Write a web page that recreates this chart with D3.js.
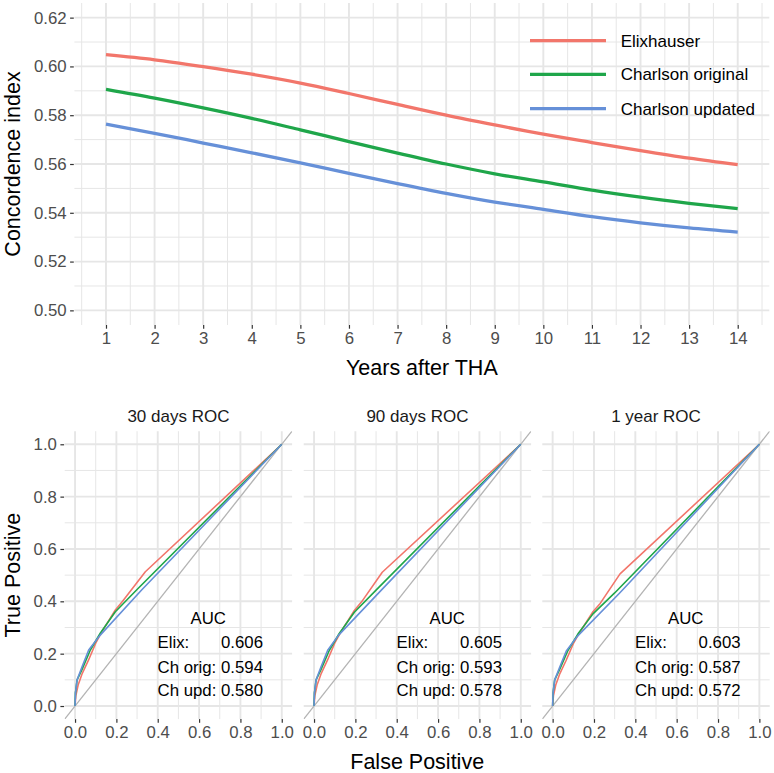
<!DOCTYPE html>
<html>
<head>
<meta charset="utf-8">
<script src="https://cdn.jsdelivr.net/npm/d3@7"></script>
<style>
  html, body { margin: 0; padding: 0; background: #fff; }
  svg { display: block; font-family: "Liberation Sans", Arial, sans-serif; }
</style>
</head>
<body>
<svg id="chart" width="774" height="773"></svg>
<script>
// ---------------- DATA ----------------
const years = [1, 2, 3, 4, 5, 6, 7, 8, 9, 10, 11, 12, 13, 14];
const yTicksTop = [0.50, 0.52, 0.54, 0.56, 0.58, 0.60, 0.62];
const seriesNames = ["Elixhauser", "Charlson original", "Charlson updated"];
const elixC   = [0.6048, 0.6027, 0.5999, 0.5968, 0.5932, 0.5889, 0.5844, 0.5800, 0.5760, 0.5722, 0.5688, 0.5655, 0.5624, 0.5597];
const chOrigC = [0.5906, 0.5870, 0.5830, 0.5787, 0.5740, 0.5692, 0.5645, 0.5600, 0.5560, 0.5527, 0.5493, 0.5464, 0.5439, 0.5417];
const chUpdC  = [0.5763, 0.5726, 0.5686, 0.5646, 0.5605, 0.5562, 0.5520, 0.5480, 0.5444, 0.5414, 0.5384, 0.5359, 0.5338, 0.5321];

const panelTitles = ["30 days ROC", "90 days ROC", "1 year ROC"];
const rocTicks = [0.0, 0.2, 0.4, 0.6, 0.8, 1.0];
// ROC curves: [false positive, true positive]
const roc30Elix = [[0,0],[0.004,0.04],[0.015,0.08],[0.035,0.125],[0.065,0.175],[0.10,0.24],[0.13,0.284],[0.195,0.367],[0.23,0.40],[0.34,0.513],[1,1]];
const roc30Orig = [[0,0],[0.002,0.05],[0.01,0.10],[0.034,0.14],[0.074,0.214],[0.122,0.278],[0.195,0.36],[0.30,0.445],[1,1]];
const roc30Upd  = [[0,0],[0.002,0.05],[0.01,0.10],[0.034,0.15],[0.066,0.214],[0.122,0.271],[0.322,0.443],[1,1]];
const roc90Elix = [[0,0],[0.004,0.04],[0.015,0.08],[0.035,0.125],[0.065,0.175],[0.10,0.24],[0.13,0.283],[0.195,0.365],[0.23,0.398],[0.33,0.511],[1,1]];
const roc90Orig = [[0,0],[0.002,0.05],[0.01,0.10],[0.034,0.14],[0.074,0.213],[0.122,0.277],[0.195,0.358],[0.30,0.443],[1,1]];
const roc90Upd  = [[0,0],[0.002,0.05],[0.01,0.10],[0.034,0.15],[0.066,0.213],[0.118,0.27],[0.322,0.44],[1,1]];
const roc1yElix = [[0,0],[0.004,0.04],[0.015,0.08],[0.035,0.124],[0.065,0.174],[0.10,0.238],[0.13,0.28],[0.195,0.36],[0.23,0.392],[0.326,0.505],[1,1]];
const roc1yOrig = [[0,0],[0.002,0.05],[0.01,0.10],[0.034,0.14],[0.074,0.212],[0.122,0.275],[0.195,0.352],[0.30,0.432],[1,1]];
const roc1yUpd  = [[0,0],[0.002,0.05],[0.01,0.10],[0.034,0.148],[0.066,0.21],[0.118,0.265],[0.322,0.43],[1,1]];
const aucLabels = ["Elix:", "Ch orig:", "Ch upd:"];
const auc30 = ["0.606", "0.594", "0.580"];
const auc90 = ["0.605", "0.593", "0.578"];
const auc1y = ["0.603", "0.587", "0.572"];

// ---------------- STYLE ----------------
const colors = ["#F2766B", "#1FA64A", "#6690D8"];
const gridCol = "#E6E6E6";
const tickTxt = "#4D4D4D";
const tickCol = "#333333";

const svg = d3.select("#chart");

// ---------------- TOP PANEL ----------------
const topP = { left: 74.4, right: 769.3, top: 3, bottom: 325 };
const x = d3.scaleLinear().domain([0.35, 14.65]).range([topP.left, topP.right]);
const y = d3.scaleLinear().domain([0.494, 0.626]).range([topP.bottom, topP.top]);

const gTop = svg.append("g");
const xMinor = d3.range(0.5, 14.6, 1);
const yMinor = d3.range(0.51, 0.62, 0.02);
gTop.selectAll(".xmin").data(xMinor).join("line")
  .attr("x1", d => x(d)).attr("x2", d => x(d)).attr("y1", topP.top).attr("y2", topP.bottom)
  .attr("stroke", gridCol).attr("stroke-width", 1.0);
gTop.selectAll(".ymin").data(yMinor).join("line")
  .attr("x1", topP.left).attr("x2", topP.right).attr("y1", d => y(d)).attr("y2", d => y(d))
  .attr("stroke", gridCol).attr("stroke-width", 1.0);
gTop.selectAll(".xmaj").data(years).join("line")
  .attr("x1", d => x(d)).attr("x2", d => x(d)).attr("y1", topP.top).attr("y2", topP.bottom)
  .attr("stroke", gridCol).attr("stroke-width", 1.9);
gTop.selectAll(".ymaj").data(yTicksTop).join("line")
  .attr("x1", topP.left).attr("x2", topP.right).attr("y1", d => y(d)).attr("y2", d => y(d))
  .attr("stroke", gridCol).attr("stroke-width", 1.9);

const xAxisTop = d3.axisBottom(x).tickValues(years).tickFormat(d3.format("d")).tickSize(3.7).tickPadding(3.5);
const yAxisTop = d3.axisLeft(y).tickValues(yTicksTop).tickFormat(d3.format(".2f")).tickSize(3.7).tickPadding(3.5);
function styleAxis(g) {
  g.select(".domain").remove();
  g.selectAll(".tick line").attr("stroke", tickCol).attr("stroke-width", 1.2);
  g.selectAll(".tick text").attr("fill", tickTxt).style("font-size", "16.8px").style("font-family", "Liberation Sans, Arial, sans-serif");
}
gTop.append("g").attr("transform", `translate(0,${topP.bottom})`).call(xAxisTop).call(styleAxis);
gTop.append("g").attr("transform", `translate(${topP.left - 0.6},0)`).call(yAxisTop).call(styleAxis);

const topSeries = [elixC, chOrigC, chUpdC];
const lineTop = d3.line().x((d, i) => x(years[i])).y(d => y(d)).curve(d3.curveMonotoneX);
gTop.selectAll(".cline").data(topSeries).join("path")
  .attr("d", d => lineTop(d)).attr("fill", "none")
  .attr("stroke", (d, i) => colors[i]).attr("stroke-width", 3.3).attr("stroke-linecap", "butt");

const legY = [40.7, 74.3, 108.7];
const leg = gTop.append("g");
seriesNames.forEach((nm, i) => {
  leg.append("line").attr("x1", 530).attr("x2", 606).attr("y1", legY[i]).attr("y2", legY[i])
    .attr("stroke", colors[i]).attr("stroke-width", 3.3);
  leg.append("text").attr("x", 620.7).attr("y", legY[i] + 6).text(nm)
    .attr("fill", "#000").style("font-size", "17px");
});

svg.append("text").attr("x", (topP.left + topP.right) / 2).attr("y", 374.5).attr("text-anchor", "middle")
  .style("font-size", "21.5px").attr("fill", "#000").text("Years after THA");
svg.append("text").attr("transform", `translate(19.5,${(topP.top + topP.bottom) / 2}) rotate(-90)`)
  .attr("text-anchor", "middle").style("font-size", "21.5px").attr("fill", "#000").text("Concordence index");

// ---------------- BOTTOM PANELS ----------------
const pW = 227.4, pTop = 431.2, pBot = 719.1;
const pLefts = [64.7, 303.7, 542.3];
const rocData = [[roc30Elix, roc30Orig, roc30Upd], [roc90Elix, roc90Orig, roc90Upd], [roc1yElix, roc1yOrig, roc1yUpd]];
const aucData = [auc30, auc90, auc1y];
const minorR = [0.1, 0.3, 0.5, 0.7, 0.9];

pLefts.forEach((pl, p) => {
  const sx = d3.scaleLinear().domain([-0.05, 1.05]).range([pl, pl + pW]);
  const sy = d3.scaleLinear().domain([-0.05, 1.05]).range([pBot, pTop]);
  const g = svg.append("g");
  const clipId = "clip" + p;
  g.append("clipPath").attr("id", clipId).append("rect")
    .attr("x", pl).attr("y", pTop).attr("width", pW).attr("height", pBot - pTop);

  g.selectAll(".vmin").data(minorR).join("line")
    .attr("x1", d => sx(d)).attr("x2", d => sx(d)).attr("y1", pTop).attr("y2", pBot)
    .attr("stroke", gridCol).attr("stroke-width", 1.0);
  g.selectAll(".hmin").data(minorR).join("line")
    .attr("x1", pl).attr("x2", pl + pW).attr("y1", d => sy(d)).attr("y2", d => sy(d))
    .attr("stroke", gridCol).attr("stroke-width", 1.0);
  g.selectAll(".vmaj").data(rocTicks).join("line")
    .attr("x1", d => sx(d)).attr("x2", d => sx(d)).attr("y1", pTop).attr("y2", pBot)
    .attr("stroke", gridCol).attr("stroke-width", 1.9);
  g.selectAll(".hmaj").data(rocTicks).join("line")
    .attr("x1", pl).attr("x2", pl + pW).attr("y1", d => sy(d)).attr("y2", d => sy(d))
    .attr("stroke", gridCol).attr("stroke-width", 1.9);

  const xa = d3.axisBottom(sx).tickValues(rocTicks).tickFormat(d3.format(".1f")).tickSize(3.7).tickPadding(3.5);
  g.append("g").attr("transform", `translate(0,${pBot})`).call(xa).call(styleAxis);
  if (p === 0) {
    const ya = d3.axisLeft(sy).tickValues(rocTicks).tickFormat(d3.format(".1f")).tickSize(3.7).tickPadding(3.5);
    g.append("g").attr("transform", `translate(${pl - 0.6},0)`).call(ya).call(styleAxis);
  }

  g.append("line").attr("clip-path", `url(#${clipId})`)
    .attr("x1", sx(-0.05)).attr("y1", sy(-0.05)).attr("x2", sx(1.05)).attr("y2", sy(1.05))
    .attr("stroke", "#B3B3B3").attr("stroke-width", 1.3);

  const ln = d3.line().x(d => sx(d[0])).y(d => sy(d[1]));
  rocData[p].forEach((ser, i) => {
    g.append("path").attr("clip-path", `url(#${clipId})`).attr("d", ln(ser)).attr("fill", "none")
      .attr("stroke", colors[i]).attr("stroke-width", 1.6).attr("stroke-linejoin", "round");
  });

  g.append("text").attr("x", pl + pW / 2).attr("y", 422).attr("text-anchor", "middle")
    .style("font-size", "17px").attr("fill", "#1A1A1A").text(panelTitles[p]);

  g.append("text").attr("x", sx(0.644)).attr("y", sy(0.336) + 6).attr("text-anchor", "middle")
    .style("font-size", "16.8px").attr("fill", "#000").text("AUC");
  const rowsTp = [0.243, 0.148, 0.061];
  aucLabels.forEach((lab, i) => {
    g.append("text").attr("x", sx(0.399)).attr("y", sy(rowsTp[i]) + 6)
      .style("font-size", "16.8px").attr("fill", "#000").text(lab);
    g.append("text").attr("x", sx(0.706)).attr("y", sy(rowsTp[i]) + 6)
      .style("font-size", "16.8px").attr("fill", "#000").text(aucData[p][i]);
  });
});

svg.append("text").attr("x", (pLefts[0] + pLefts[2] + pW) / 2).attr("y", 769).attr("text-anchor", "middle")
  .style("font-size", "21.5px").attr("fill", "#000").text("False Positive");
svg.append("text").attr("transform", `translate(19.5,${(pTop + pBot) / 2}) rotate(-90)`)
  .attr("text-anchor", "middle").style("font-size", "21.5px").attr("fill", "#000").text("True Positive");
</script>
</body>
</html>
